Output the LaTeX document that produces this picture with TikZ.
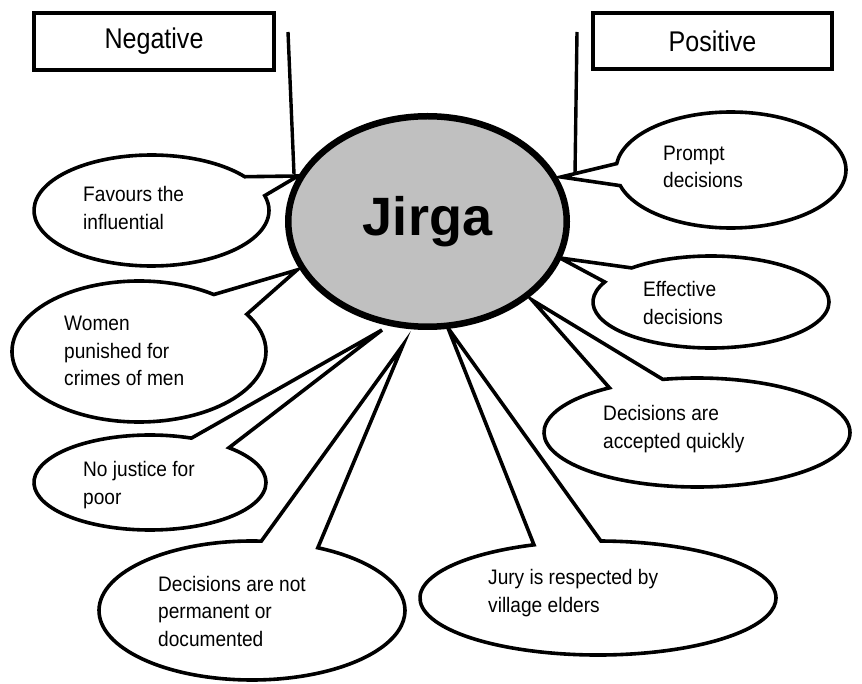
\documentclass[tikz,border=0pt]{standalone}
\usepackage{fontspec}
\setmainfont{Liberation Sans}
\newfontfamily\bubfont{Liberation Sans}[FakeStretch=0.91]
\newfontfamily\boxfont{Liberation Sans}[FakeStretch=0.88]
\usetikzlibrary{shapes.callouts,shapes.geometric}
\definecolor{hubgray}{RGB}{192,192,192}
\begin{document}
\begin{tikzpicture}[x=1pt,y=-1pt,
  bubble/.style={ellipse callout, draw, line width=3.6pt, fill=white,
    inner sep=0pt, callout pointer arc=22},
  bubtext/.style={anchor=west, align=left, inner sep=0pt,
    font={\bubfont\fontsize{21}{27.5}\selectfont}},
  headbox/.style={rectangle, draw, line width=4pt, inner sep=0pt,
    font={\boxfont\fontsize{28.5}{30}\selectfont}},
  hub/.style={ellipse, draw, line width=6.5pt, fill=hubgray, inner sep=0pt,
    minimum width=278.5, minimum height=210.5,
    font={\fontsize{54}{60}\selectfont\bfseries}},
  leader/.style={line width=3.4pt}]
\useasboundingbox (0,0) rectangle (862,684);

% heading boxes
\node[headbox, minimum width=240, minimum height=57] (neg) at (154,41.5) {Negative};
\node[headbox, minimum width=239, minimum height=56] (pos) at (712.5,41) {Positive};

% speech bubbles round the centre
\node[bubble, minimum width=230, minimum height=116,
  callout absolute pointer={(561,177)}] (prompt) at (731,170) {};
\node[bubble, minimum width=235, minimum height=111,
  callout absolute pointer={(298,176)}] (fav) at (151.5,210.5) {};
\node[bubble, minimum width=236, minimum height=92,
  callout absolute pointer={(560,258)}] (eff) at (711,302) {};
\node[bubble, minimum width=254, minimum height=141,
  callout absolute pointer={(297,270)}] (women) at (139,351.5) {};
\node[bubble, minimum width=306, minimum height=109,
  callout absolute pointer={(532,300)}] (acc) at (697,432.5) {};
\node[bubble, minimum width=232, minimum height=95,
  callout absolute pointer={(382,330)}] (poor) at (150,482.5) {};
\node[bubble, minimum width=356, minimum height=114,
  callout absolute pointer={(448,328)}] (jury) at (598,598) {};
\node[bubble, minimum width=306, minimum height=139,
  callout absolute pointer={(403,345)}] (perm) at (252,610.5) {};

% bubble texts
\node[bubtext] (promptt) at (663,167) {Prompt\\decisions};
\node[bubtext] (favt) at (83,208) {Favours the\\influential};
\node[bubtext] (efft) at (643,303) {Effective\\decisions};
\node[bubtext] (woment) at (64,351) {Women\\punished for\\crimes of men};
\node[bubtext] (acct) at (603,429) {Decisions are\\accepted quickly};
\node[bubtext] (poort) at (83,485) {No justice for\\poor};
\node[bubtext] (juryt) at (488,593) {Jury is respected by\\village elders};
\node[bubtext] (permt) at (158,611) {Decisions are not\\permanent or\\documented};

% centre
\node[hub] (jirga) at (427.5,221.5) {Jirga};

% leaders from the headings
\coordinate (negtop) at (288,32);
\coordinate (negfoot) at (294,174);
\coordinate (postop) at (577,32);
\coordinate (posfoot) at (575,174);
\draw[leader] (negtop) -- (negfoot);
\draw[leader] (postop) -- (posfoot);
\end{tikzpicture}
\end{document}
